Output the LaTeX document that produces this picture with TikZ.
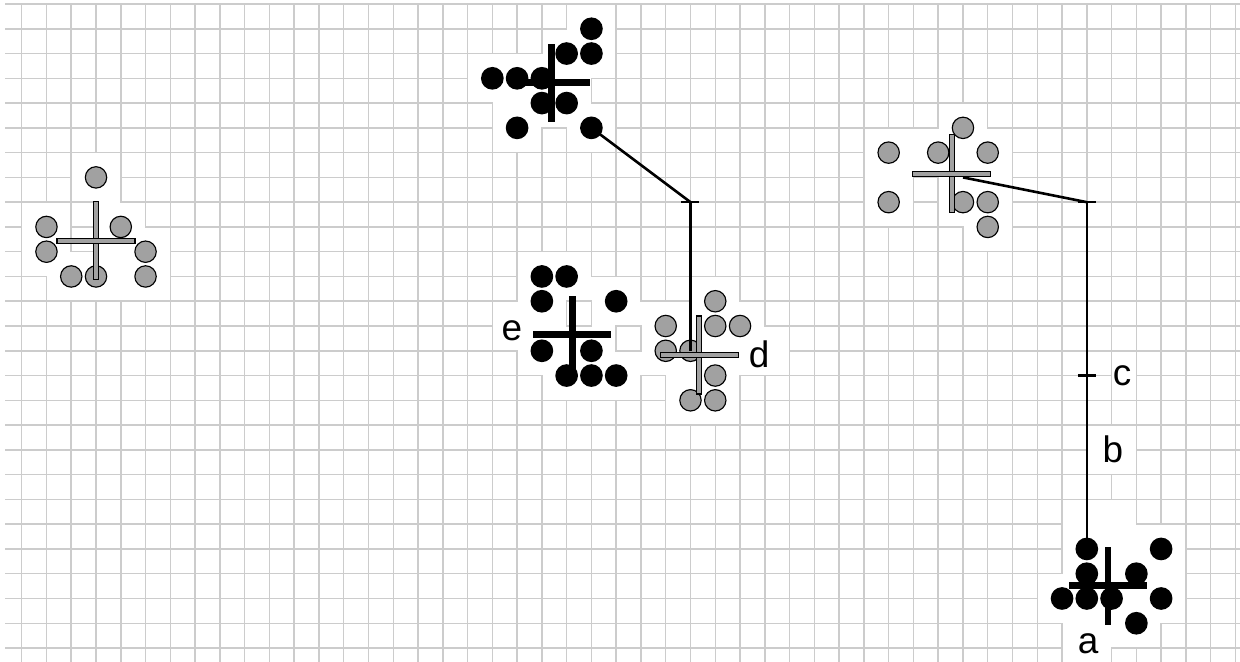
\documentclass[tikz,border=0pt]{standalone}
\usepackage{fontspec}
\setmainfont{Liberation Sans}
\definecolor{dotgray}{gray}{0.63}
\definecolor{gridgray}{gray}{0.80}
\tikzset{
  gridline/.style={draw=gridgray, line width=0.85pt, line cap=rect},
  gdot/.style={circle, draw=black, line width=0.65pt, fill=dotgray, inner sep=0pt, minimum size=0.428cm},
  bdot/.style={circle, fill=black, inner sep=0pt, minimum size=0.454cm},
  gbar/.style={draw=black, line width=0.6pt, fill=dotgray},
  bbar/.style={fill=black},
  link/.style={draw=black, line width=1.5pt},
  lab/.style={anchor=base, inner sep=0pt, font=\fontsize{21}{25}\selectfont}
}
\def\allpts{3/7,1/9,4/9,1/10,5/10,2/11,3/11,5/11,23/1,22/2,23/2,19/3,20/3,21/3,21/4,22/4,20/5,23/5,21/11,22/11,21/12,24/12,21/14,23/14,22/15,23/15,24/15,28/12,26/13,28/13,29/13,26/14,27/14,28/15,27/16,28/16,38/5,35/6,37/6,39/6,35/8,38/8,39/8,39/9,43/22,46/22,43/23,45/23,42/24,43/24,44/24,46/24,45/25}
\def\extracells{42/20,43/20,44/20,44/21,42/25,43/25,42/26,43/26,43/17,44/17,43/18,44/18,44/14,44/15,29/13,30/13,29/14,30/14,19/12,20/12,19/13,20/13}
\begin{document}
\begin{tikzpicture}[x=0.4954cm, y=-0.4954cm]
\useasboundingbox (-0.87606,-0.16149) rectangle (49.1845,26.5644);
% white cells: the 2x2 cells around every dot, and the cells under labels
\foreach \p/\q in \allpts {
  \foreach \da in {-1,0} {
    \foreach \db in {-1,0} {
      \pgfmathtruncatemacro\ca{\p+\da}
      \pgfmathtruncatemacro\cb{\q+\db}
      \expandafter\gdef\csname wc@\ca @\cb\endcsname{}
    }
  }
}
\foreach \p/\q in \extracells {
  \expandafter\gdef\csname wc@\p @\q\endcsname{}
}
% grid
\begin{scope}
\clip (-0.674,-0.04) rectangle (49.1845,26.5644);
\foreach \i in {-1,...,49} {
  \foreach \j in {0,...,26} {
    \pgfmathtruncatemacro\jm{\j-1}
    \def\dodraw{1}
    \ifcsname wc@\i @\jm\endcsname\ifcsname wc@\i @\j\endcsname\def\dodraw{0}\fi\fi
    \if1\dodraw \draw[gridline] (\i,\j) -- ++(1,0);\fi
  }
}
\foreach \i in {-1,...,49} {
  \foreach \j in {0,...,26} {
    \pgfmathtruncatemacro\im{\i-1}
    \def\dodraw{1}
    \ifcsname wc@\im @\j\endcsname\ifcsname wc@\i @\j\endcsname\def\dodraw{0}\fi\fi
    \if1\dodraw \draw[gridline] (\i,\j) -- ++(0,1);\fi
  }
}
\end{scope}
% dots
\foreach \p/\q [count=\k] in {3/7,1/9,4/9,1/10,5/10,2/11,3/11,5/11}
  \node[gdot] (A\k) at (\p,\q) {};
\foreach \p/\q [count=\k] in {23/1,22/2,23/2,19/3,20/3,21/3,21/4,22/4,20/5,23/5}
  \node[bdot] (B\k) at (\p,\q) {};
\foreach \p/\q [count=\k] in {21/11,22/11,21/12,24/12,21/14,23/14,22/15,23/15,24/15}
  \node[bdot] (E\k) at (\p,\q) {};
\foreach \p/\q [count=\k] in {28/12,26/13,28/13,29/13,26/14,27/14,28/15,27/16,28/16}
  \node[gdot] (D\k) at (\p,\q) {};
\foreach \p/\q [count=\k] in {38/5,35/6,37/6,39/6,35/8,38/8,39/8,39/9}
  \node[gdot] (T\k) at (\p,\q) {};
\foreach \p/\q [count=\k] in {43/22,46/22,43/23,45/23,42/24,43/24,44/24,46/24,45/25}
  \node[bdot] (F\k) at (\p,\q) {};
% link points
\coordinate (t1) at (27,8);
\coordinate (t2) at (43,8);
\coordinate (t3) at (43,15);
\coordinate (tr) at (38,7);
% connectors
\draw[link] (B10.center) -- (t1);
\draw[link] (t1) -- (D6.center);
\draw[link] (tr) -- (t2);
\draw[link] (t2) -- (F1.center);
\foreach \t in {t1,t2,t3}
  \draw[link] ([xshift=-0.18cm]\t) -- ([xshift=0.18cm]\t);
% crosses
\coordinate (x1) at (3,9.55);
\coordinate (x2) at (21.38,3.17);
\coordinate (xe) at (22.23,13.35);
\coordinate (xd) at (27.36,14.17);
\coordinate (xt) at (37.55,6.86);
\coordinate (xa) at (43.86,23.48);
\foreach \c in {x1,xd,xt} {
  \draw[gbar] ([shift={(-0.101,-1.5745)}]\c) rectangle ([shift={(0.101,1.5745)}]\c);
  \draw[gbar] ([shift={(-1.5745,-0.101)}]\c) rectangle ([shift={(1.5745,0.101)}]\c);
}
\foreach \c in {x2,xe,xa} {
  \fill[bbar] ([shift={(-0.135,-1.5745)}]\c) rectangle ([shift={(0.135,1.5745)}]\c);
  \fill[bbar] ([shift={(-1.5745,-0.135)}]\c) rectangle ([shift={(1.5745,0.135)}]\c);
}
% labels
\node[lab] (la) at (43.048,26.221) {a};
\node[lab] (lb) at (44.057,18.490) {b};
\node[lab] (lc) at (44.421,15.382) {c};
\node[lab] (ld) at (29.766,14.655) {d};
\node[lab] (le) at (19.794,13.605) {e};
\end{tikzpicture}
\end{document}
